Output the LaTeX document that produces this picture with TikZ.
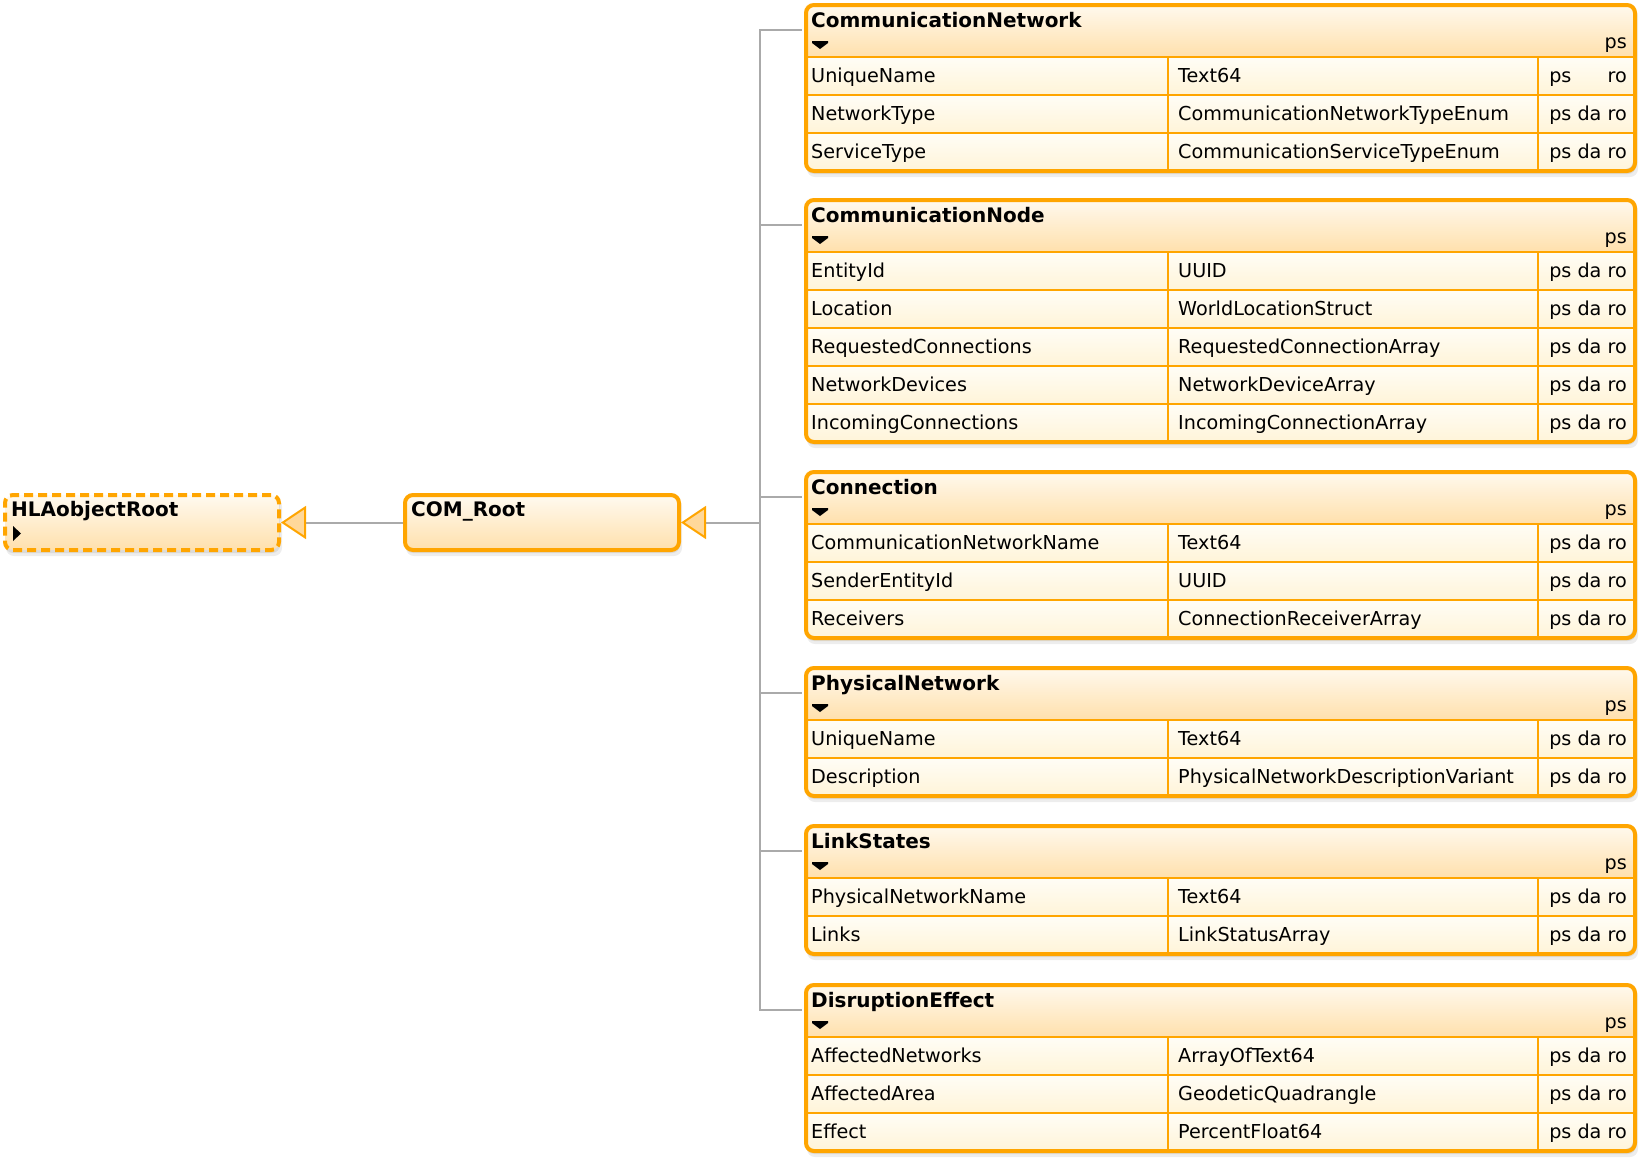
\documentclass[tikz,border=0pt]{standalone}
\usepackage{fontspec}
\setmainfont{DejaVu Sans}
\usetikzlibrary{arrows.meta}
\definecolor{bord}{RGB}{255,165,0}
\definecolor{hdtop}{RGB}{255,250,240}
\definecolor{hdbot}{RGB}{255,224,172}
\definecolor{rwtop}{RGB}{255,253,246}
\definecolor{rwbot}{RGB}{255,244,216}
\definecolor{trifill}{RGB}{255,216,154}
\definecolor{conncol}{RGB}{170,170,170}
\def\BL{804}\def\BR{1633}\def\CA{1168}\def\CB{1538}
\newcommand\cbox[4]{% #1 name, #2 top, #3 rows, #4 title
  \pgfmathsetmacro\xBot{#2+54+38*#3-2}%
  \pgfmathsetmacro\xHb{#2+54}%
  \pgfmathsetmacro\xHt{54+38*#3-2}%
  \fill[black,opacity=.08,rounded corners=8pt] (\BL+2,#2+3) rectangle (\BR+3,\xBot+5);
  \fill[black,opacity=.07,rounded corners=8pt] (\BL+3,#2+5) rectangle (\BR+5,\xBot+8);
  \begin{scope}
    \clip[rounded corners=8pt] (\BL,#2) rectangle (\BR,\xBot);
    \shade[top color=hdtop,bottom color=hdbot] (\BL,#2) rectangle (\BR,\xHb);
    \foreach \i in {1,...,#3}{\shade[top color=rwtop,bottom color=rwbot] (\BL,{\xHb+38*(\i-1)}) rectangle (\BR,{\xHb+38*\i});}
  \end{scope}
  \foreach \i in {1,...,#3}{\draw[rowline] (\BL,{\xHb+38*(\i-1)}) -- (\BR,{\xHb+38*(\i-1)});}
  \draw[rowline] (\CA,\xHb) -- (\CA,\xBot);
  \draw[rowline] (\CB,\xHb) -- (\CB,\xBot);
  \node[frame, minimum width=829pt, minimum height=\xHt pt, anchor=north west] (#1) at (\BL,#2) {};
  \node[ttl] (#1-t) at (811,{#2+24}) {#4};
  \node[txt,anchor=base east] (#1-ps) at (1627,{#2+45}) {ps};
  \fill (812,{#2+38}) -- (828,{#2+38}) -- (828,{#2+40}) -- (820,{#2+46}) -- (812,{#2+40}) -- cycle;
  \coordinate (#1-in) at (\BL-2,{#2+27});
}
\newcommand\crow[6]{% #1 box, #2 top, #3 index, #4 attr, #5 type, #6 flags
  \node[txt] (#1-a#3) at (811,{#2+41+38*#3}) {#4};
  \node[txt] (#1-b#3) at (1178,{#2+41+38*#3}) {#5};
  \node[txt,anchor=base east] (#1-c#3) at (1627,{#2+41+38*#3}) {#6};
}
\begin{document}
\begin{tikzpicture}[x=1pt,y=-1pt,
  frame/.style={draw=bord, line width=4pt, rounded corners=8pt, inner sep=0pt},
  rowline/.style={draw=bord, line width=1.4pt},
  txt/.style={inner sep=0pt, anchor=base west, font=\fontsize{19.2}{22}\selectfont},
  ttl/.style={inner sep=0pt, anchor=base west, font=\fontsize{20}{22}\selectfont\bfseries},
  conn/.style={draw=conncol, line width=2pt},
  gen/.style={conn, -{Triangle[length=25pt,width=33pt,fill=trifill,color=bord]}}]
\useasboundingbox (0,0) rectangle (1646,1160);

% class boxes
\cbox{cn}{3}{3}{CommunicationNetwork}
\crow{cn}{3}{1}{UniqueName}{Text64}{ps\phantom{\ da\ }ro}
\crow{cn}{3}{2}{NetworkType}{CommunicationNetworkTypeEnum}{ps da ro}
\crow{cn}{3}{3}{ServiceType}{CommunicationServiceTypeEnum}{ps da ro}

\cbox{cnode}{198}{5}{CommunicationNode}
\crow{cnode}{198}{1}{EntityId}{UUID}{ps da ro}
\crow{cnode}{198}{2}{Location}{WorldLocationStruct}{ps da ro}
\crow{cnode}{198}{3}{RequestedConnections}{RequestedConnectionArray}{ps da ro}
\crow{cnode}{198}{4}{NetworkDevices}{NetworkDeviceArray}{ps da ro}
\crow{cnode}{198}{5}{IncomingConnections}{IncomingConnectionArray}{ps da ro}

\cbox{conn}{470}{3}{Connection}
\crow{conn}{470}{1}{CommunicationNetworkName}{Text64}{ps da ro}
\crow{conn}{470}{2}{SenderEntityId}{UUID}{ps da ro}
\crow{conn}{470}{3}{Receivers}{ConnectionReceiverArray}{ps da ro}

\cbox{pn}{666}{2}{PhysicalNetwork}
\crow{pn}{666}{1}{UniqueName}{Text64}{ps da ro}
\crow{pn}{666}{2}{Description}{PhysicalNetworkDescriptionVariant}{ps da ro}

\cbox{ls}{824}{2}{LinkStates}
\crow{ls}{824}{1}{PhysicalNetworkName}{Text64}{ps da ro}
\crow{ls}{824}{2}{Links}{LinkStatusArray}{ps da ro}

\cbox{de}{983}{3}{DisruptionEffect}
\crow{de}{983}{1}{AffectedNetworks}{ArrayOfText64}{ps da ro}
\crow{de}{983}{2}{AffectedArea}{GeodeticQuadrangle}{ps da ro}
\crow{de}{983}{3}{Effect}{PercentFloat64}{ps da ro}

% root boxes
\fill[black,opacity=.08,rounded corners=8pt] (405,496) rectangle (680,553);
\fill[black,opacity=.07,rounded corners=8pt] (406,498) rectangle (682,556);
\node[frame, top color=hdtop, bottom color=hdbot, minimum width=274pt, minimum height=55pt, anchor=north west] (com) at (403,493) {};
\node[ttl] (com-t) at (411,516) {COM\_Root};

\fill[black,opacity=.08,rounded corners=8pt] (5,496) rectangle (280,553);
\fill[black,opacity=.07,rounded corners=8pt] (6,498) rectangle (282,556);
\node[frame, dash pattern=on 9pt off 5pt, top color=hdtop, bottom color=hdbot, minimum width=274pt, minimum height=55pt, anchor=north west] (hla) at (3,493) {};
\node[ttl] (hla-t) at (11,516) {HLAobjectRoot};
\fill (13,526) -- (21,533.5) -- (13,541) -- cycle;

% connectors
\coordinate (jn) at (760,520.5);
\foreach \b in {cn,cnode,conn,pn,ls,de}{\draw[conn] (jn) |- (\b-in);}
\draw[gen] (jn |- com.east) -- (com.east);
\draw[gen] (com.west) -- (com.west -| hla.east);
\end{tikzpicture}
\end{document}
